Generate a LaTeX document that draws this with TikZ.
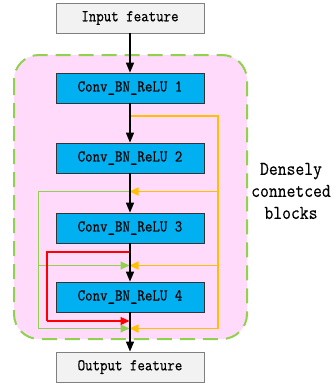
\documentclass[tikz,border=0pt]{standalone}
\usepackage{fontspec}
\usetikzlibrary{arrows.meta}
\newfontfamily\lblfont{Latin Modern Mono}[FakeStretch=0.88,FakeBold=0.4]
\definecolor{pinkbg}{RGB}{255,218,250}
\definecolor{dashgreen}{RGB}{146,208,80}
\definecolor{lgreen}{RGB}{146,208,80}
\definecolor{myyellow}{RGB}{255,192,0}
\definecolor{myred}{RGB}{255,0,0}
\definecolor{boxblue}{RGB}{0,176,240}
\definecolor{boxgray}{RGB}{242,242,242}
\definecolor{bordergray}{RGB}{128,128,128}
\tikzset{
  graybox/.style={draw=bordergray, fill=boxgray, line width=0.9pt, minimum width=148pt, minimum height=30pt, inner sep=0pt, font=\lblfont\fontsize{16.5}{18}\selectfont},
  convbox/.style={draw=black!80, fill=boxblue, line width=0.7pt, minimum width=148pt, minimum height=30pt, inner sep=0pt, font=\lblfont\fontsize{16.5}{18}\selectfont},
  mainline/.style={draw=black, line width=1.4pt, -{Triangle[length=10pt,width=8pt]}},
  yline/.style={draw=myyellow, line width=1.3pt},
  yarrow/.style={yline, -{Triangle[length=9pt,width=8pt]}, shorten >=-0.5pt},
  gline/.style={draw=lgreen, line width=1.3pt},
  garrow/.style={gline, -{Triangle[length=9pt,width=8pt]}, shorten >=0.5pt},
  rline/.style={draw=myred, line width=1.3pt},
  rarrow/.style={rline, -{Triangle[length=9pt,width=8pt]}, shorten >=0.5pt},
}
\begin{document}
\begin{tikzpicture}[x=1pt,y=-1pt]
\useasboundingbox (0,0) rectangle (333,383);
% dense block background
\draw[fill=pinkbg, draw=dashgreen, line width=2pt, dash pattern=on 15pt off 8pt, rounded corners=25pt] (14,55) rectangle (247,339);
\node[font=\lblfont\fontsize{19.5}{22}\selectfont, align=center] (lbl) at (291,191) {Densely\\connetced\\blocks};
% boxes
\node[graybox] (in) at (130,18) {Input feature};
\node[convbox] (c1) at (130,88) {Conv\_BN\_ReLU 1};
\node[convbox] (c2) at (130,158) {Conv\_BN\_ReLU 2};
\node[convbox] (c3) at (130,228) {Conv\_BN\_ReLU 3};
\node[convbox] (c4) at (130,297) {Conv\_BN\_ReLU 4};
\node[graybox] (out) at (130,367) {Output feature};
% junctions on the main line
\coordinate (j1) at (130,116);
\coordinate (j2) at (130,191.5);
\coordinate (j3) at (130,252);
\coordinate (j4) at (130,265.5);
\coordinate (j5) at (130,321);
\coordinate (j6) at (130,328.5);
% yellow
\coordinate (ya) at (218,116);
\coordinate (yb) at (218,191.5);
\coordinate (yc) at (218,265.5);
\coordinate (yd) at (218,328.5);
\draw[yline] (j1) -- (ya) -- (yd);
\draw[yarrow] (yb) -- (j2);
\draw[yarrow] (yc) -- (j4);
\draw[yarrow] (yd) -- (j6);
% green
\coordinate (ga) at (38.5,191.5);
\coordinate (gb) at (38.5,265.5);
\coordinate (gc) at (38.5,328.5);
\draw[gline] (j2) -- (ga) -- (gc);
\draw[garrow] (gb) -- (j4);
\draw[garrow] (gc) -- (j6);
% red
\coordinate (ra) at (47,252);
\coordinate (rb) at (47,321);
\draw[rline] (j3) -- (ra) -- (rb);
\draw[rarrow] (rb) -- (j5);
% main flow
\draw[mainline] (in) -- (c1);
\draw[mainline] (c1) -- (c2);
\draw[mainline] (c2) -- (c3);
\draw[mainline] (c3) -- (c4);
\draw[mainline] (c4) -- (out);
\end{tikzpicture}
\end{document}
